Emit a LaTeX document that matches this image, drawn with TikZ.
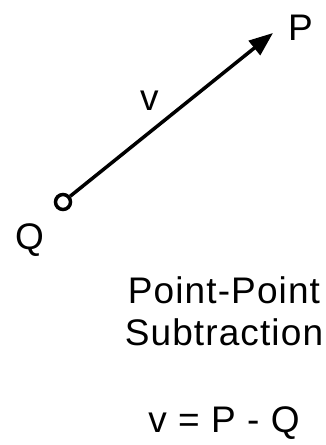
\documentclass[tikz,border=0pt]{standalone}
\usepackage{fontspec}
\setmainfont[LetterSpace=3]{Liberation Sans}
\usetikzlibrary{arrows.meta}
\begin{document}
\begin{tikzpicture}[x=1pt,y=-1pt,
  lbl/.style={inner sep=0pt,font=\fontsize{37}{44}\selectfont},
  vec/.style={line width=3.5pt,-{Triangle[length=24pt,width=18pt]}}]
\useasboundingbox (0,0) rectangle (326,445);
\node[draw,circle,line width=3.5pt,minimum size=15pt,inner sep=0pt] (q) at (63,202) {};
\coordinate (p) at (273,33);
\draw[vec] (q) -- (p);
\node[lbl,anchor=base west] (plbl) at (288,40) {P};
\node[lbl,anchor=base west] (qlbl) at (15,249) {Q};
\node[lbl,anchor=base west] (vlbl) at (140,110) {v};
\node[lbl,anchor=base] (t1) at (224,303) {Point-Point};
\node[lbl,anchor=base] (t2) at (224,345) {Subtraction};
\node[lbl,anchor=base] (t3) at (224,432) {v = P - Q};
\end{tikzpicture}
\end{document}
